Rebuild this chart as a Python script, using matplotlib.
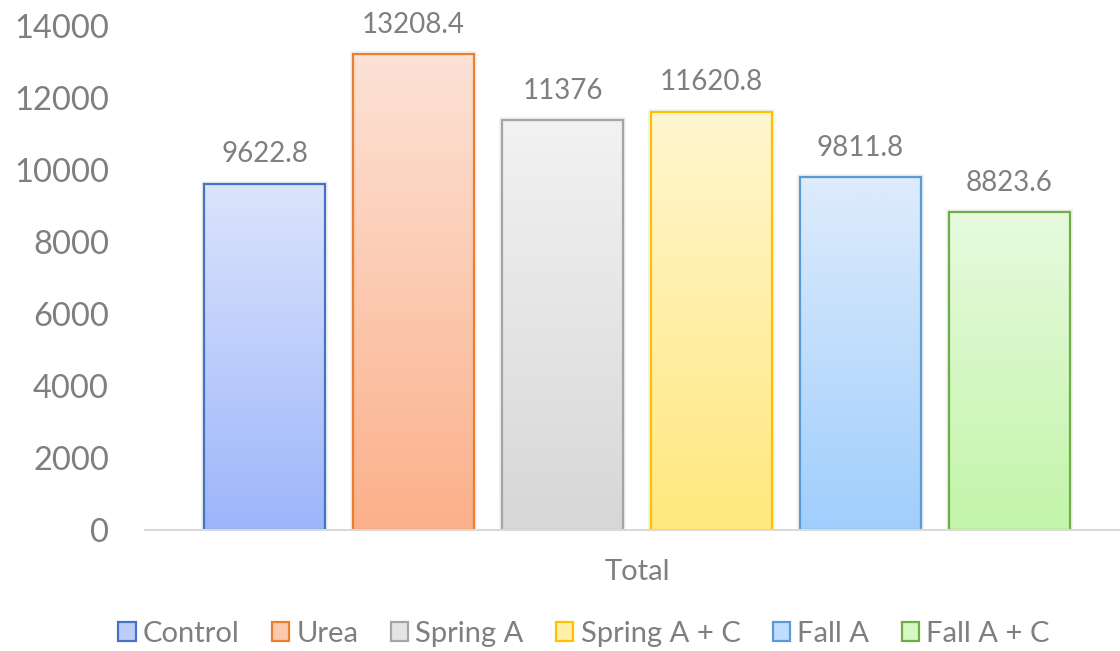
import numpy as np
import matplotlib
matplotlib.use("Agg")
import matplotlib.pyplot as plt
from matplotlib.patches import Rectangle
from matplotlib.colors import LinearSegmentedColormap

categories = ["Control", "Urea", "Spring A", "Spring A + C", "Fall A", "Fall A + C"]
values = [9622.8, 13208.4, 11376, 11620.8, 9811.8, 8823.6]
value_labels = ["9622.8", "13208.4", "11376", "11620.8", "9811.8", "8823.6"]
group_label = "Total"
yticks = [0, 2000, 4000, 6000, 8000, 10000, 12000, 14000]

edge_colors = ["#4472C4", "#ED7D31", "#A5A5A5", "#FFC000", "#5B9BD5", "#70AD47"]
top_colors = ["#DCE4FC", "#FDE2D6", "#F2F2F2", "#FFF6D0", "#DEECFC", "#E7FADE"]
bottom_colors = ["#9DB5FA", "#FBB08A", "#D7D7D7", "#FFE87D", "#A0CEFC", "#C3F5AA"]

text_color = "#7F7F7F"
plt.rcParams["font.family"] = ["Lato", "DejaVu Sans"]

W, H = 1120, 651
fig = plt.figure(figsize=(W / 100, H / 100), dpi=100)
ax = fig.add_axes([145 / W, 1 - 530 / H, (1120 - 145) / W, (530 - 26) / H])

x = np.arange(len(categories))
width = 121 / 149
bars = ax.bar(x, values, width=width, facecolor="none", edgecolor=edge_colors,
              linewidth=1.6, zorder=3)

for b, tc, bc in zip(bars, top_colors, bottom_colors):
    x0, y0 = b.get_x(), b.get_y()
    w, h = b.get_width(), b.get_height()
    sh = Rectangle((x0, y0), w, h, facecolor="none", edgecolor="#000000",
                   linewidth=4, alpha=0.06, zorder=1)
    ax.add_patch(sh)
    cmap = LinearSegmentedColormap.from_list("g", [bc, tc])
    grad = np.linspace(0, 1, 256).reshape(-1, 1)
    ax.imshow(grad, extent=[x0, x0 + w, y0, y0 + h], origin="lower",
              aspect="auto", cmap=cmap, zorder=2, interpolation="bilinear")

for b, lab in zip(bars, value_labels):
    ax.annotate(lab, (b.get_x() + b.get_width() / 2, b.get_height()),
                xytext=(0, 21), textcoords="offset points", ha="center",
                va="center", fontsize=20, color=text_color)

ax.set_xlim(-0.802, 5.742)
ax.set_ylim(0, 14000)
ax.set_yticks(yticks)
ax.set_yticklabels([str(t) for t in yticks])
ax.set_xticks([2.5])
ax.set_xticklabels([group_label])
ax.tick_params(axis="y", length=0, pad=26, labelsize=23.5, labelcolor=text_color)
ax.tick_params(axis="x", length=0, pad=21, labelsize=21, labelcolor=text_color)
for s in ["top", "right", "left"]:
    ax.spines[s].set_visible(False)
ax.spines["bottom"].set_color("#D9D9D9")
ax.spines["bottom"].set_linewidth(1.5)
ax.spines["bottom"].set_zorder(4)

handles = [Rectangle((0, 0), 1, 1, facecolor=(np.array(matplotlib.colors.to_rgb(t)) +
                                              np.array(matplotlib.colors.to_rgb(bt))) / 2,
                     edgecolor=e, linewidth=1.6)
           for t, bt, e in zip(top_colors, bottom_colors, edge_colors)]
leg = fig.legend(handles, categories, loc="center", bbox_to_anchor=(584 / W, 1 - 634 / H),
                 ncol=6, frameon=False, fontsize=21, labelcolor=text_color,
                 handlelength=0.6, handleheight=0.6, handletextpad=0.25,
                 columnspacing=1.1)

fig.savefig("out.png", dpi=100)
